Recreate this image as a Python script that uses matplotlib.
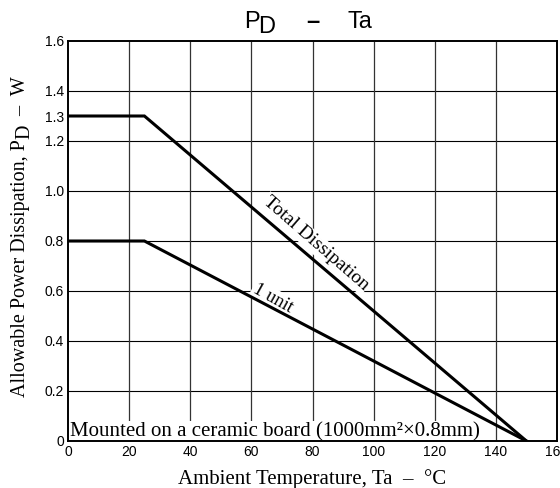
import numpy as np
import matplotlib.pyplot as plt

plt.rcParams['font.family'] = ['Liberation Sans', 'DejaVu Sans']

# derating curves
total_x = [0, 25, 150]
total_y = [1.3, 1.3, 0]
unit_x = [0, 25, 150]
unit_y = [0.8, 0.8, 0]

x_ticks = [0, 20, 40, 60, 80, 100, 120, 140, 160]
y_ticks = [0, 0.2, 0.4, 0.6, 0.8, 1.0, 1.2, 1.3, 1.4, 1.6]
y_labels = ['0', '0.2', '0.4', '0.6', '0.8', '1.0', '1.2', '1.3', '1.4', '1.6']
grid_y = [0.2, 0.4, 0.6, 0.8, 1.0, 1.2, 1.4]
grid_x = [20, 40, 60, 80, 100, 120, 140]

W, H = 560, 488
fig = plt.figure(figsize=(W / 100, H / 100), dpi=100)
ax = fig.add_axes([68 / W, 1 - 441 / H, (557 - 68) / W, (441 - 41) / H])

ax.hlines(grid_y, 0, 160, color='black', lw=0.8, zorder=1)
ax.vlines(grid_x, 0, 1.6, color='#333333', lw=0.9, zorder=1)

ax.plot(total_x, total_y, color='black', lw=2.2, zorder=3, solid_joinstyle='miter')
ax.plot(unit_x, unit_y, color='black', lw=2.2, zorder=3, solid_joinstyle='miter')

ax.set_xlim(0, 160)
ax.set_ylim(0, 1.6)
ax.set_xticks(x_ticks)
ax.set_xticklabels([str(v) for v in x_ticks], fontsize=10)
ax.set_yticks(y_ticks)
ax.set_yticklabels(y_labels, fontsize=10)
ax.tick_params(length=0, pad=3)
for s in ax.spines.values():
    s.set_linewidth(1.4)

serif = ['Liberation Serif', 'DejaVu Serif']
ax.set_xlabel('Ambient Temperature, Ta  –  °C', family=serif, fontsize=15, labelpad=7)

# labels sit over the grid but under the curves
box = dict(facecolor='white', edgecolor='none', pad=1.0)
ax.text(81, 0.79, 'Total Dissipation', family=serif, fontsize=14, rotation=-41,
        ha='center', va='center', bbox=box, zorder=2)
ax.text(67, 0.57, '1 unit', family=serif, fontsize=13.3, rotation=-29,
        ha='center', va='center', bbox=box, zorder=2)
ax.text(0.5, 0.0, 'Mounted on a ceramic board (1000mm²×0.8mm)', family=serif,
        fontsize=15, ha='left', va='bottom',
        bbox=dict(facecolor='white', edgecolor='none', pad=0.5), zorder=2)

# y label in pieces so the D is full size and lowered
renderer = fig.canvas.get_renderer()
y_pos = 397
pieces = [('Allowable Power Dissipation, P', 0), ('D', 4), ('  –  W', 0)]
for txt, shift in pieces:
    t = fig.text((25 + shift) / W, 1 - y_pos / H, txt, family=serif, fontsize=14.5,
                 rotation=90, rotation_mode='anchor', ha='left', va='baseline')
    bb = t.get_window_extent(renderer)
    y_pos -= bb.height

# title P_D - Ta
fig.text(244 / W, 1 - 28 / H, 'P', fontsize=17, ha='left', va='baseline')
fig.text(258 / W, 1 - 33 / H, 'D', fontsize=17, ha='left', va='baseline')
fig.text(313 / W, 1 - 28 / H, '–', fontsize=17, fontweight='bold', ha='center', va='baseline')
fig.text(347 / W, 1 - 28 / H, 'Ta', fontsize=17, ha='left', va='baseline')

fig.savefig('out.png', dpi=100)
